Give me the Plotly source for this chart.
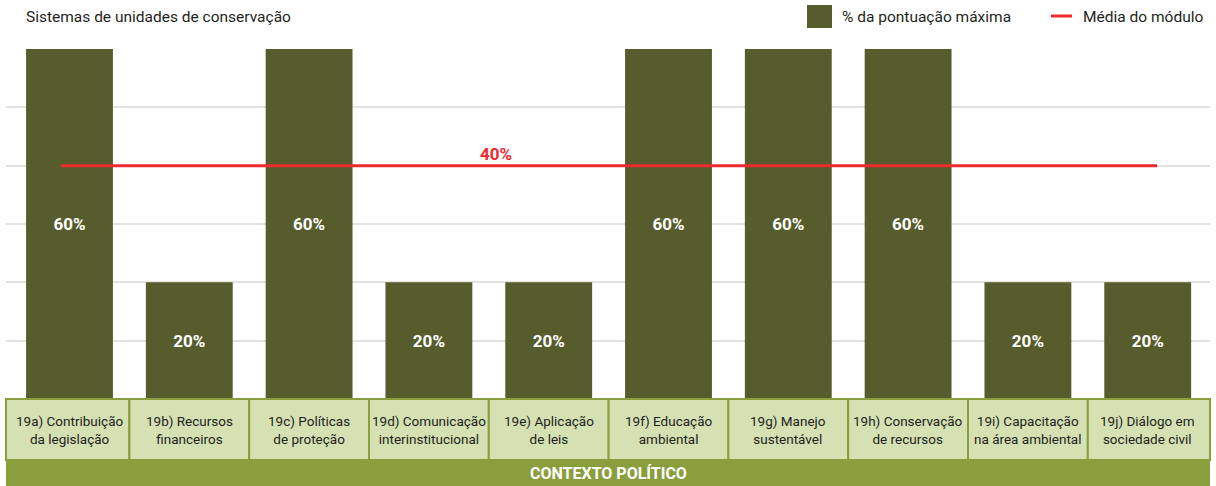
import plotly.graph_objects as go

# Chart data
categories = [
    "19a) Contribuição<br>da legislação",
    "19b) Recursos<br>financeiros",
    "19c) Políticas<br>de proteção",
    "19d) Comunicação<br>interinstitucional",
    "19e) Aplicação<br>de leis",
    "19f) Educação<br>ambiental",
    "19g) Manejo<br>sustentável",
    "19h) Conservação<br>de recursos",
    "19i) Capacitação<br>na área ambiental",
    "19j) Diálogo em<br>sociedade civil",
]
scores = [60, 20, 60, 20, 20, 60, 60, 60, 20, 20]
module_mean = 40
title_text = "Sistemas de unidades de conservação"
group_label = "CONTEXTO POLÍTICO"
legend_bar = "% da pontuação máxima"
legend_line = "Média do módulo"

# Styling
W, H = 1216, 486
M_L, M_R, M_T, M_B = 6, 6, 49, 87
X_RANGE = [-0.53, 9.52]
FONT = "Roboto, sans-serif"
BAR = "#565c2b"
RED = "#ee2a2f"
BOX_FILL = "#d5e0b3"
BOX_LINE = "#8a9e3e"
BAND = "#8a9e3e"
TEXT = "#231f20"

plot_w = W - M_L - M_R
plot_h = H - M_T - M_B


def px_x(x):
    return (x - M_L) / plot_w


def px_y(y):
    return (H - M_B - y) / plot_h


def cat_to_paper(v):
    return (v - X_RANGE[0]) / (X_RANGE[1] - X_RANGE[0])


idx = list(range(len(categories)))

fig = go.Figure()
fig.add_trace(go.Bar(
    x=idx, y=scores, width=0.725,
    marker=dict(color=BAR, line=dict(width=0)),
    text=[f"{v}%" for v in scores],
    textposition="inside", insidetextanchor="middle",
    textfont=dict(family=FONT, size=17, color="white", weight="bold"),
    constraintext="none",
    hoverinfo="skip", showlegend=False,
))
fig.add_trace(go.Scatter(
    x=[-0.071, len(categories) - 1 + 0.078], y=[module_mean, module_mean],
    mode="lines", line=dict(color=RED, width=3),
    hoverinfo="skip", showlegend=False,
))

shapes = []
annotations = []

# Category label boxes under the bars
box_top, box_bot = px_y(399), px_y(460)
for i, label in enumerate(categories):
    x0 = cat_to_paper(i - 0.5) if i > 0 else 0
    x1 = cat_to_paper(i + 0.5) if i < len(categories) - 1 else 1
    shapes.append(dict(type="rect", xref="paper", yref="paper",
                       x0=x0, x1=x1, y0=box_bot, y1=box_top,
                       fillcolor=BOX_FILL, line=dict(color=BOX_LINE, width=2),
                       layer="above"))
    annotations.append(dict(x=i, xref="x", y=(box_top + box_bot) / 2, yref="paper",
                            text=label, showarrow=False, xanchor="center", yanchor="middle",
                            font=dict(family=FONT, size=13.5, color=TEXT)))

# Group band
shapes.append(dict(type="rect", xref="paper", yref="paper",
                   x0=0, x1=1, y0=px_y(486), y1=box_bot,
                   fillcolor=BAND, line=dict(width=0), layer="above"))
annotations.append(dict(x=0.5, xref="paper", y=px_y(473), yref="paper",
                        text=group_label, showarrow=False, xanchor="center", yanchor="middle",
                        font=dict(family=FONT, size=16, color="white", weight="bold")))

# Mean value label
annotations.append(dict(x=3.56, xref="x", y=module_mean, yref="y", yshift=12,
                        text=f"{module_mean}%", showarrow=False,
                        xanchor="center", yanchor="middle",
                        font=dict(family=FONT, size=17, color=RED, weight="bold")))

# Title
annotations.append(dict(x=px_x(24), xref="paper", y=px_y(17), yref="paper",
                        text=title_text, showarrow=False, xanchor="left", yanchor="middle",
                        font=dict(family=FONT, size=15.5, color=TEXT)))

# Legend
shapes.append(dict(type="rect", xref="paper", yref="paper",
                   x0=px_x(807), x1=px_x(832), y0=px_y(28), y1=px_y(5),
                   fillcolor=BAR, line=dict(width=0)))
annotations.append(dict(x=px_x(840), xref="paper", y=px_y(17), yref="paper",
                        text=legend_bar, showarrow=False, xanchor="left", yanchor="middle",
                        font=dict(family=FONT, size=15.5, color=TEXT)))
shapes.append(dict(type="line", xref="paper", yref="paper",
                   x0=px_x(1051), x1=px_x(1072), y0=px_y(16), y1=px_y(16),
                   line=dict(color=RED, width=3)))
annotations.append(dict(x=px_x(1081), xref="paper", y=px_y(17), yref="paper",
                        text=legend_line, showarrow=False, xanchor="left", yanchor="middle",
                        font=dict(family=FONT, size=15.5, color=TEXT)))

fig.update_layout(
    width=W, height=H,
    margin=dict(l=M_L, r=M_R, t=M_T, b=M_B, pad=0),
    paper_bgcolor="white", plot_bgcolor="white",
    showlegend=False,
    shapes=shapes, annotations=annotations,
    xaxis=dict(range=X_RANGE, showticklabels=False, showgrid=False,
               zeroline=False, showline=False, fixedrange=True),
    yaxis=dict(range=[0, 60], dtick=10, showticklabels=False, showgrid=True,
               gridcolor="#e2e2e2", gridwidth=1.5, zeroline=False, showline=False,
               fixedrange=True),
)

fig.write_html("out.html")
